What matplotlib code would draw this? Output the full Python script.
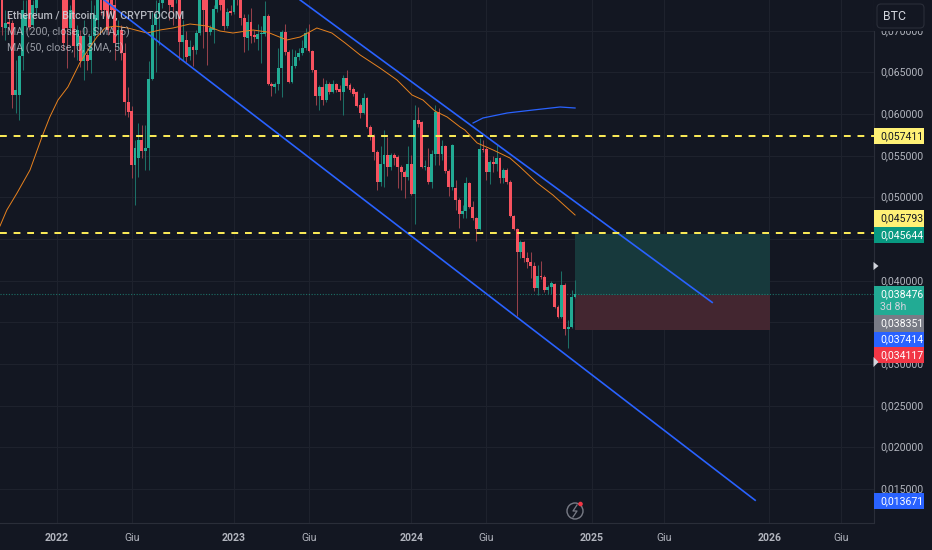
import numpy as np
import pandas as pd
import matplotlib
matplotlib.use("Agg")
import matplotlib.pyplot as plt
from matplotlib.patches import Rectangle, Circle, FancyBboxPatch, Polygon
from matplotlib.ticker import FuncFormatter

plt.rcParams["font.family"] = ["Roboto", "DejaVu Sans"]

# weekly candles, prices in 1e-5 BTC, oldest first; the last bar is the week of 2024-12-02
opens = [7430,7034,7106,7094,6230,6230,6698,7058,7430,7070,7274,7730,7550,7850,7610,7910,7670,7490,
         7490,7430,7034,7430,6818,6938,6638,6710,6650,6938,7130,7370,7490,7370,7430,7310,6950,7010,
         6734,6146,6038,5390,5474,5690,5558,5594,6422,7070,7202,7334,7466,7490,7466,7394,7490,6866,
         6890,6698,6806,6770,6974,7430,7406,6986,7010,7262,7490,7430,7058,7238,7226,7466,7430,7154,
         6914,7106,6950,6902,6962,6962,7178,6362,6326,6362,6554,6986,6746,6386,6578,6686,6734,6794,
         6974,6758,6530,6218,6326,6170,6362,6266,6362,6302,6266,6434,6350,6302,6266,6110,6014,6194,
         5846,5738,5546,5186,5402,5510,5366,5510,5486,5366,5306,5246,5402,5042,5930,5906,5366,5366,
         5186,5522,6026,5522,5618,5318,5126,5114,4970,4802,4838,5174,4886,4754,4622,5582,5582,5306,
         5426,5402,5474,5234,5330,5186,4778,4622,4346,4466,4274,4226,4178,3914,4058,4046,3890,3926,
         3962,3686,3566,3950,3422,3446,3806]
highs = [7430,7250,7190,7130,6650,6710,7370,7370,7430,7370,7514,7790,7910,7910,7970,7970,7730,7850,
         7550,7490,7310,7490,7070,7010,7130,6746,7370,7310,7466,7430,7550,7430,7490,7430,7130,7070,
         6854,6326,6098,5690,5894,5870,5870,6638,7226,7370,7430,7490,7670,7550,7514,7610,7550,7130,
         6998,6890,6830,7010,7490,7490,7466,7070,7310,7466,7550,7490,7274,7310,7490,7490,7490,7202,
         7202,7274,7010,7082,7058,7358,7202,6386,6386,6794,7010,7082,6770,6782,6770,6794,6890,7034,
         7082,6770,6530,6350,6434,6410,6386,6410,6374,6350,6470,6530,6374,6326,6278,6134,6254,6206,
         5870,5762,5570,5618,5810,5726,5534,5534,5510,5390,5330,5618,5510,6110,6086,5918,5450,5594,
         5570,6110,6074,5690,5630,5342,5642,5210,4994,4910,5246,5186,4958,4766,5714,5690,5606,5450,
         5498,5630,5486,5354,5354,5210,4790,4634,4490,4478,4346,4346,4226,4190,4238,4070,3950,3998,
         3974,3710,4118,3974,3530,3890,4010]
lows = [6950,6890,7010,6074,6014,5930,6530,7010,7010,7046,7190,7430,7466,7490,7514,7550,7430,7418,
        6770,6554,6950,6686,6650,6566,6410,6530,6494,6770,7010,7190,7178,6950,7190,6650,6794,6650,
        5990,5966,5234,4910,5246,5474,5330,5330,6410,6506,6830,7274,7430,7130,7070,7334,6650,6650,
        6626,6650,6578,6722,6950,6794,6590,6950,6854,7226,7250,7010,7034,7190,7202,7310,7070,6746,
        6770,6854,6866,6770,6614,6938,6350,6218,6254,6290,6206,6710,6374,6374,6554,6650,6710,6770,
        6746,6506,6110,6050,6110,6146,6242,6254,6266,6170,5990,6314,6266,6218,6086,5954,6002,5834,
        5690,5450,5090,5138,5126,5258,5330,5390,5114,5090,4994,5210,5030,4682,5846,5354,5330,5162,
        5114,5390,5390,5450,5294,5018,5090,4850,4634,4754,4754,4874,4730,4478,4610,5546,5210,5162,
        5306,5318,5174,5174,5162,4766,4610,3578,4274,4226,4154,4034,3878,3830,4022,3866,3842,3842,
        3674,3554,3554,3350,3194,3434,3794]
closes = [7046,7094,7082,6230,6290,6698,7250,7190,7046,7310,7490,7490,7850,7610,7910,7670,7490,7790,
          6854,7034,7250,6818,7010,6638,6938,6638,6938,7190,7430,7250,7250,7010,7250,6854,7010,6734,
          6146,6026,5390,5594,5690,5558,5594,6422,7070,7202,7334,7430,7610,7310,7286,7430,6866,6950,
          6686,6806,6770,6974,7430,7250,6986,7034,7262,7430,7310,7058,7226,7214,7430,7370,7154,6926,
          7106,6938,6926,6962,6974,7178,6362,6338,6362,6554,6986,6746,6386,6578,6686,6734,6794,6974,
          6758,6530,6218,6326,6170,6362,6266,6362,6290,6266,6434,6338,6290,6242,6098,6014,6194,5846,
          5738,5546,5186,5402,5510,5366,5510,5474,5366,5306,5246,5402,5042,5930,5882,5366,5378,5186,
          5522,6026,5522,5618,5318,5126,5630,4970,4802,4838,5174,4886,4754,4622,5582,5570,5306,5426,
          5402,5474,5234,5330,5186,4778,4622,4346,4466,4274,4226,4178,3914,4058,4046,3890,3926,3974,
          3686,3566,3950,3422,3446,3806,3848]

# moving averages: week offset from the last bar, value in 1e-5 BTC
ma50_weeks = [-168.6,-166.6,-163.6,-159.8,-156.3,-154,-151.6,-148.7,-145.2,-142.8,-140.2,-137.8,-134.9,
              -131.1,-125.5,-121.7,-117.9,-112.9,-107.9,-104.1,-100.3,-94.4,-90.3,-84.5,-80.6,-75.7,
              -71.3,-67.4,-63,-57.2,-52.2,-47.8,-44.6,-41.1,-37.5,-33.7,-32.3,-28.7,-24,-19.1,-16.1,
              -11.1,-6.5,0]
ma50_vals = [4658,4850,5054,5330,5726,5966,6170,6326,6614,6770,6926,7034,7058,7034,6974,7010,7034,7082,
             7058,6998,6974,7010,6986,6890,6926,7034,6974,6854,6710,6554,6410,6230,6170,6038,5966,5846,
             5810,5654,5570,5474,5366,5174,5030,4790]
ma200_weeks = [-29.9,-27,-19.9,-12.3,-4.4,0]
ma200_vals = [5894,5954,6014,6050,6086,6074]

# drawings
lower_channel_weeks = [-138.1, 52.8]
lower_channel_vals = [0.0737, 0.013671]
upper_channel_weeks = [-80.6, 40.2]
upper_channel_vals = [0.0737, 0.037414]
levels = [0.057411, 0.045793]
last_price = 0.038476
long_weeks = [0, 57.2]
long_target, long_entry, long_stop = 0.045644, 0.038351, 0.034117

yticks = [0.015, 0.02, 0.025, 0.03, 0.035, 0.04, 0.045, 0.05, 0.055, 0.06, 0.065, 0.07]
hidden_yticks = [0.035, 0.045]  # covered by the price tags in the reference
tick_dates = ["2022-01-03", "2022-06-06", "2023-01-02", "2023-06-05", "2024-01-01", "2024-06-03",
              "2025-01-06", "2025-06-02", "2026-01-05", "2026-06-01"]
tick_labels = ["2022", "Giu", "2023", "Giu", "2024", "Giu", "2025", "Giu", "2026", "Giu"]
last_bar = pd.Timestamp("2024-12-02")

BG = "#131722"
GRID = "#1e222d"
GREEN = "#22ab94"
RED = "#f7525f"
BLUE = "#2962ff"
YELLOW = "#ffee58"


def price_label(v, pos):
    if any(abs(v - t) < 1e-6 for t in hidden_yticks):
        return ""
    return f"{v:.6f}".replace(".", ",")


o, h, l, c = [np.array(a) * 1e-5 for a in (opens, highs, lows, closes)]
weeks = np.arange(-len(o) + 1, 1)
up = c >= o

fig = plt.figure(figsize=(9.32, 5.5), dpi=100, facecolor=BG)
ax = fig.add_axes([0, 27 / 550, 873.5 / 932, 523 / 550], facecolor=BG)
ax.set_xlim(-168.6, 87.5)
ax.set_ylim(0.01094, 0.0737)

xt = [(pd.Timestamp(d) - last_bar).days / 7 for d in tick_dates]
ax.set_xticks(xt)
ax.set_xticklabels(tick_labels)
for lab, txt in zip(ax.get_xticklabels(), tick_labels):
    if txt != "Giu":
        lab.set_fontweight("bold")
        lab.set_color("#d1d4dc")
ax.yaxis.tick_right()
ax.set_yticks(yticks)
ax.yaxis.set_major_formatter(FuncFormatter(price_label))
ax.tick_params(axis="both", length=0, labelsize=7.6, labelcolor="#b2b5be")
ax.tick_params(axis="x", pad=7)
ax.tick_params(axis="y", pad=5)
plt.setp(ax.get_yticklabels(), va="center")
ax.grid(True, color=GRID, lw=0.8, zorder=0)
ax.set_axisbelow(True)
for s in ("top", "left"):
    ax.spines[s].set_visible(False)
for s in ("right", "bottom"):
    ax.spines[s].set_color("#2a2e39")
    ax.spines[s].set_linewidth(0.8)

# long position box
ax.add_patch(Rectangle((long_weeks[0], long_entry), long_weeks[1] - long_weeks[0], long_target - long_entry,
                       facecolor="#17393c", edgecolor="none", zorder=1))
ax.add_patch(Rectangle((long_weeks[0], long_stop), long_weeks[1] - long_weeks[0], long_entry - long_stop,
                       facecolor="#432630", edgecolor="none", zorder=1))

ax.axhline(last_price, color=GREEN, lw=0.8, ls=(0, (1, 1.5)), alpha=0.6, zorder=2)

# candles
wick_col = np.where(up, "#1c6f66", "#94404a")
ax.vlines(weeks, l, h, colors=wick_col, lw=0.75, zorder=3)
ax.bar(weeks[up], (c - o)[up], bottom=o[up], width=0.84, color=GREEN, lw=0, zorder=4)
ax.bar(weeks[~up], (c - o)[~up], bottom=o[~up], width=0.84, color=RED, lw=0, zorder=4)

ax.plot(ma50_weeks, np.array(ma50_vals) * 1e-5, color="#e8821e", lw=0.7, zorder=5)
ax.plot(ma200_weeks, np.array(ma200_vals) * 1e-5, color=BLUE, lw=0.9, zorder=5)

ax.plot(lower_channel_weeks, lower_channel_vals, color=BLUE, lw=1.2, zorder=6)
ax.plot(upper_channel_weeks, upper_channel_vals, color=BLUE, lw=1.2, zorder=6)

for lv in levels:
    ax.axhline(lv, color=YELLOW, lw=1.4, ls=(0, (3.5, 3.5)), zorder=6)

# overlay in pixel coordinates for the legend, price tags and icons
ov = fig.add_axes([0, 0, 1, 1], facecolor="none")
ov.set_xlim(0, 932)
ov.set_ylim(550, 0)
ov.axis("off")

ov.text(7, 16, "Ethereum / Bitcoin, 1W, CRYPTOCOM", color="#d1d4dc", alpha=0.85, fontsize=7.7,
        va="center", fontweight="medium")
ov.text(7, 32, "MA (200, close, 0, SMA, 5)", color="#d1d4dc", alpha=0.7, fontsize=7.7, va="center")
ov.text(7, 48, "MA (50, close, 0, SMA, 5)", color="#d1d4dc", alpha=0.7, fontsize=7.7, va="center")

tags = [
    (128, 16, "#fff176", "#131722", "0,057411"),
    (210, 16.5, "#fff176", "#131722", "0,045793"),
    (227, 16, "#089981", "#ffffff", "0,045644"),
    (315, 16.5, "#787b86", "#ffffff", "0,038351"),
    (331.5, 15.5, BLUE, "#ffffff", "0,037414"),
    (347, 16, "#f23645", "#ffffff", "0,034117"),
    (493, 16, BLUE, "#ffffff", "0,013671"),
]
for y, hgt, bg, fg, txt in tags:
    ov.add_patch(Rectangle((873.5, y), 50, hgt, facecolor=bg, edgecolor="none"))
    ov.text(880.5, y + hgt / 2, txt, color=fg, fontsize=7.6, va="center")
ov.add_patch(Rectangle((873.5, 286), 50, 29, facecolor=GREEN, edgecolor="none"))
ov.text(880.5, 294, "0,038476", color="#ffffff", fontsize=7.6, va="center")
ov.text(880.5, 307, "3d 8h", color="#d1d4dc", fontsize=7.6, va="center")

# currency button covers the top of the price scale
ov.add_patch(Rectangle((874, 0), 58, 31, facecolor=BG, edgecolor="none"))
ov.add_patch(FancyBboxPatch((877, 4), 47, 24, boxstyle="round,pad=0,rounding_size=4",
                            facecolor=BG, edgecolor="#2a2e39", lw=0.8))
ov.text(883, 16, "BTC", color="#d1d4dc", fontsize=8.8, va="center")

ov.add_patch(Polygon([(873.5, 262), (878.5, 266), (873.5, 270)], facecolor="#d1d4dc", edgecolor="none"))
ov.add_patch(Polygon([(873.5, 357), (878.5, 362), (873.5, 367)], facecolor="#d1d4dc", edgecolor="none"))

ov.add_patch(Circle((575, 511), 8, facecolor="none", edgecolor="#787b86", lw=1))
ov.plot([577, 573, 577, 573], [505, 511, 511, 517], color="#787b86", lw=0.9)
ov.add_patch(Circle((580.5, 504), 2.3, facecolor="#f23645", edgecolor="none"))

fig.savefig("out.png", dpi=100, facecolor=BG)
